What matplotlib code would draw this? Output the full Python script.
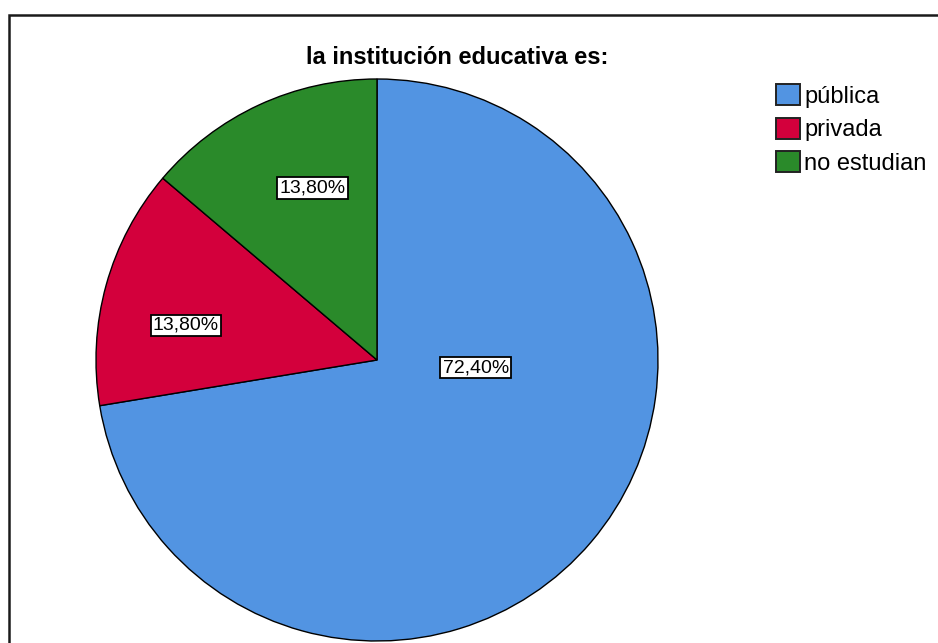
import matplotlib
matplotlib.use("Agg")
import matplotlib.pyplot as plt
from matplotlib.patches import Rectangle, Patch

plt.rcParams['font.family'] = ['Liberation Sans', 'DejaVu Sans']

categories = ["pública", "privada", "no estudian"]
values = [72.4, 13.8, 13.8]
labels = ["72,40%", "13,80%", "13,80%"]
colors = ["#5294e2", "#d3003c", "#2a8a2a"]
title = "la institución educativa es:"

W, H = 938, 643
fig = plt.figure(figsize=(W / 100, H / 100), dpi=100)

cx, cy, r = 377, 360, 281
ax = fig.add_axes([(cx - r) / W, (H - cy - r) / H, 2 * r / W, 2 * r / H])
wedges, _ = ax.pie(values, colors=colors, startangle=90, counterclock=False,
                   radius=1.0, wedgeprops=dict(edgecolor="black", linewidth=1.0))
ax.set_xlim(-1.0, 1.0)
ax.set_ylim(-1.0, 1.0)
ax.set_aspect("equal")
ax.axis("off")

# label positions (data coords), placed per slice
label_pos = [(0.352, -0.027), (-0.68, 0.123), (-0.23, 0.613)]
for (x, y), t in zip(label_pos, labels):
    ax.text(x, y, t, ha="center", va="center", fontsize=14, color="black",
            bbox=dict(boxstyle="square,pad=0.12", facecolor="white",
                      edgecolor="black", linewidth=1.3))

fig.text(457 / W, 1 - 57 / H, title, ha="center", va="center",
         fontsize=17, fontweight="bold")

handles = [Patch(facecolor=c, edgecolor="#222222", linewidth=1.4) for c in colors]
leg = fig.legend(handles, categories, loc="upper left",
                 bbox_to_anchor=(776 / W, 1 - 84 / H), frameon=False,
                 fontsize=17, handlelength=1.0, handleheight=1.0,
                 handletextpad=0.2, labelspacing=0.42, borderpad=0.0,
                 borderaxespad=0.0)

# outer frame
fig.patches.append(Rectangle((9 / W, -0.1), 2.0, 1 - 15 / H + 0.1,
                             transform=fig.transFigure, fill=False,
                             edgecolor="#1a1a1a", linewidth=1.8, zorder=0))

fig.savefig("out.png", dpi=100)
